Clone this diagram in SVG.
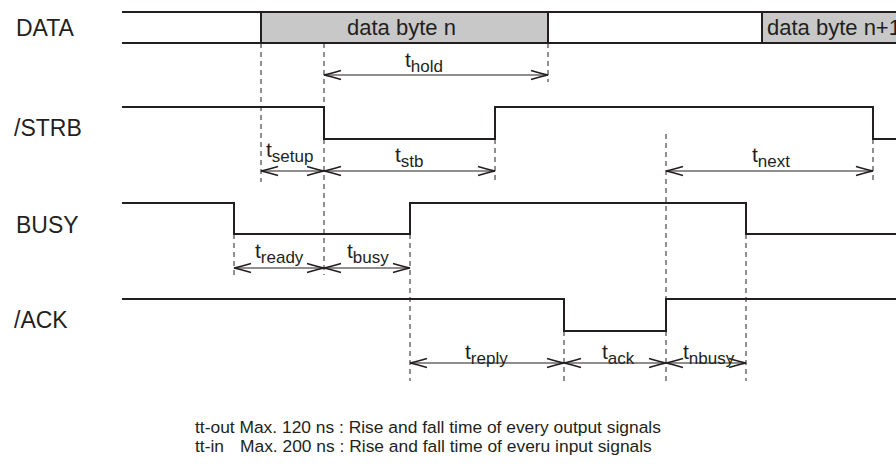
<svg xmlns="http://www.w3.org/2000/svg" width="896" height="464" viewBox="0 0 896 464">
<style>
text{font-family:"Liberation Sans",Arial,sans-serif;fill:#231f20}
.lbl{font-size:23px}
.dt{font-size:22px}
.t{font-size:21px}
.sub{font-size:17px}
.note{font-size:17.4px}
.sig{fill:none;stroke:#231f20;stroke-width:2}
.dash{fill:none;stroke:#231f20;stroke-width:1;stroke-dasharray:5,4}
.arr{fill:none;stroke:#231f20;stroke-width:1.2;marker-start:url(#ah);marker-end:url(#ah)}
</style>
<defs>
<marker id="ah" markerUnits="userSpaceOnUse" markerWidth="20" markerHeight="12" viewBox="-18 -6 20 12" refX="0" refY="0" orient="auto-start-reverse">
<path d="M-17,-4.5 Q-6,-1.2 0,0 Q-6,1.2 -17,4.5" fill="none" stroke="#231f20" stroke-width="1.6"/>
</marker>
</defs>

<g id="labels">
<text class="lbl" x="16" y="36">DATA</text>
<text class="lbl" x="14" y="136">/STRB</text>
<text class="lbl" x="16" y="233">BUSY</text>
<text class="lbl" x="14" y="328">/ACK</text>
</g>

<g id="data">
<rect x="261" y="12" width="287" height="31" fill="#c8c8c8"/>
<rect x="762" y="12" width="140" height="31" fill="#c8c8c8"/>
<path class="sig" d="M122,12 H896 M122,43 H896 M261,12 V43 M548,12 V43 M762,12 V43"/>
<text class="dt" x="347" y="35">data byte n</text>
<text class="dt" x="767" y="35">data byte n+1</text>
</g>

<g id="strb"><path class="sig" d="M122,107 H324 V139 H495 V107 H873 V139 H896"/></g>
<g id="busy"><path class="sig" d="M122,203 H234 V234 H410 V203 H746 V234 H896"/></g>
<g id="ack"><path class="sig" d="M122,299 H564 V331 H666 V299 H896"/></g>

<g id="connectors">
<path class="dash" d="M261,43 V182 M324,43 V107 M324,139 V275 M548,43 V82 M495,139 V182 M873,139 V182 M666,134 V299 M666,331 V381 M234,234 V278 M410,234 V381 M564,331 V381 M746,234 V381"/>
<path class="arr" d="M324,75 H548"/>
<path class="arr" d="M261,171 H324"/>
<path class="arr" d="M324,171 H495"/>
<path class="arr" d="M666,171 H873"/>
<path class="arr" d="M234,268 H324"/>
<path class="arr" d="M324,268 H410"/>
<path class="arr" d="M410,363 H564"/>
<path class="arr" d="M564,363 H666"/>
<path class="arr" d="M666,363 H746"/>
</g>

<g id="timing-labels">
<text class="t" x="405" y="67">t<tspan class="sub" dy="5">hold</tspan></text>
<text class="t" x="266" y="157">t<tspan class="sub" dy="5">setup</tspan></text>
<text class="t" x="395" y="162">t<tspan class="sub" dy="5">stb</tspan></text>
<text class="t" x="752" y="162">t<tspan class="sub" dy="5">next</tspan></text>
<text class="t" x="255" y="258">t<tspan class="sub" dy="5">ready</tspan></text>
<text class="t" x="347" y="258">t<tspan class="sub" dy="5">busy</tspan></text>
<text class="t" x="465" y="359">t<tspan class="sub" dy="5">reply</tspan></text>
<text class="t" x="602" y="359">t<tspan class="sub" dy="5">ack</tspan></text>
<text class="t" x="683" y="359">t<tspan class="sub" dy="5">nbusy</tspan></text>
</g>

<g id="notes">
<text class="note" x="195" y="433">tt-out Max. 120 ns : Rise and fall time of every output signals</text>
<text class="note" x="195" y="452">tt-in<tspan x="240">Max. 200 ns : Rise and fall time of everu input signals</tspan></text>
</g>
</svg>
